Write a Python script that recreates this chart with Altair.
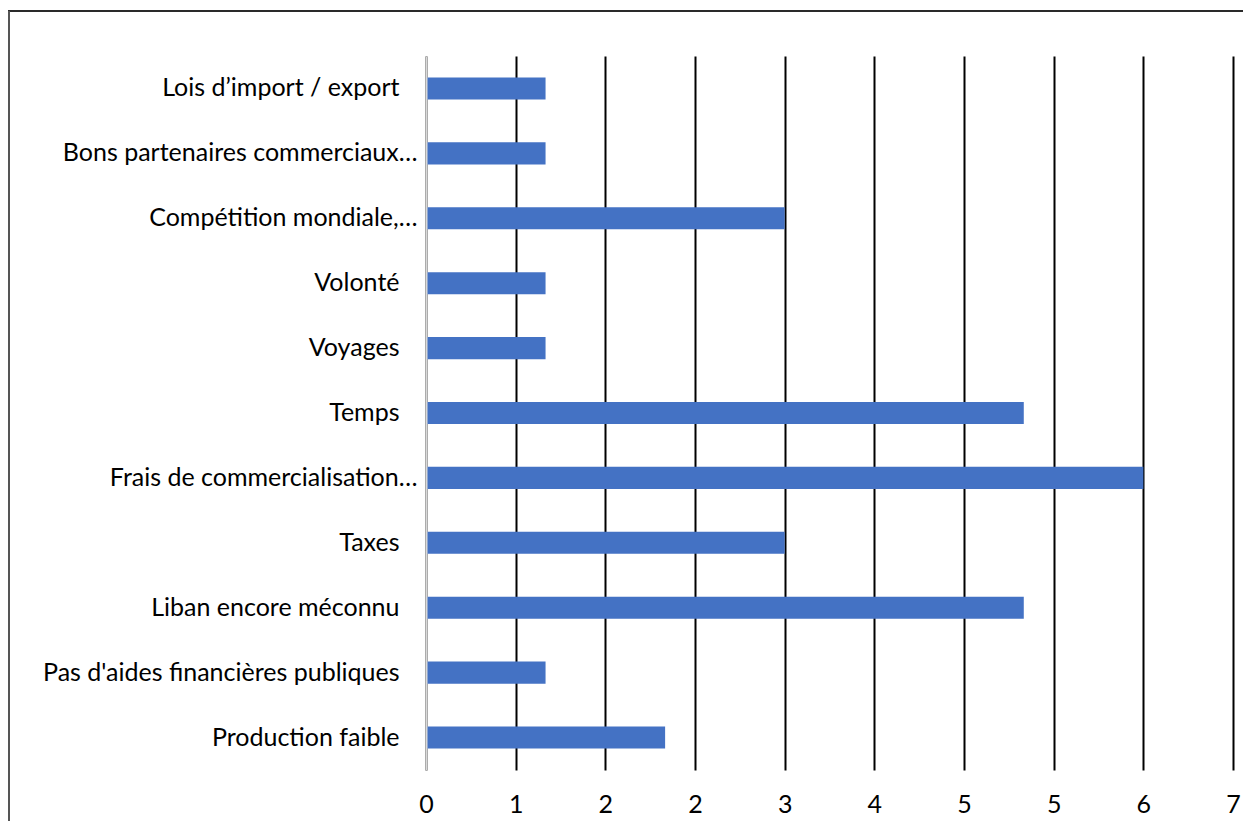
import altair as alt
import pandas as pd

categories = [
    "Lois d’import / export",
    "Bons partenaires commerciaux…",
    "Compétition mondiale,…",
    "Volonté",
    "Voyages",
    "Temps",
    "Frais de commercialisation…",
    "Taxes",
    "Liban encore méconnu",
    "Pas d'aides financières publiques",
    "Production faible",
]
values = [1, 1, 3, 1, 1, 5, 6, 3, 5, 1, 2]
tick_values = [0, 0.75, 1.5, 2.25, 3, 3.75, 4.5, 5.25, 6, 6.75]

df = pd.DataFrame({"cat": categories, "val": values})
FONT = "Lato"
FS = 25

bars = alt.Chart(df).mark_bar(color="#4472C4").encode(
    y=alt.Y(
        "cat:N",
        sort=categories,
        title=None,
        scale=alt.Scale(paddingInner=0.66, paddingOuter=0.33),
        axis=alt.Axis(
            domain=True,
            domainColor="#d9d9d9",
            domainWidth=2,
            ticks=False,
            labelFont=FONT,
            labelFontSize=FS,
            labelColor="#000000",
            labelPadding=alt.ExprRef(
                expr="indexof(datum.value, '…') >= 0 ? 9 : 27"
            ),
            labelLimit=600,
            zindex=1,
        ),
    ),
    x=alt.X(
        "val:Q",
        title=None,
        scale=alt.Scale(domain=[0, 6.75], nice=False, zero=True),
        axis=alt.Axis(
            values=tick_values,
            labelExpr="format(datum.value, '.0f')",
            labelFlush=False,
            labelOverlap=False,
            domain=False,
            ticks=False,
            grid=True,
            gridColor="#000000",
            gridWidth=2,
            labelFont=FONT,
            labelFontSize=FS,
            labelColor="#000000",
            labelPadding=22,
        ),
    ),
)

frame_top = alt.Chart(df).mark_rule(color="#2a2a2a", strokeWidth=2).encode(
    x=alt.value(-418), x2=alt.value(830), y=alt.value(-45)
)
frame_left = alt.Chart(df).mark_rule(color="#555555", strokeWidth=2).encode(
    x=alt.value(-417), y=alt.value(-45), y2=alt.value(800)
)

chart = (
    alt.layer(bars, frame_top, frame_left)
    .properties(
        width=807,
        height=714,
        autosize=alt.AutoSizeParams(type="none"),
        padding={"left": 418, "top": 48, "right": 10, "bottom": 60},
    )
    .configure_view(stroke=None)
)

chart.save("out.html", embed_options={"renderer": "svg", "actions": False})
